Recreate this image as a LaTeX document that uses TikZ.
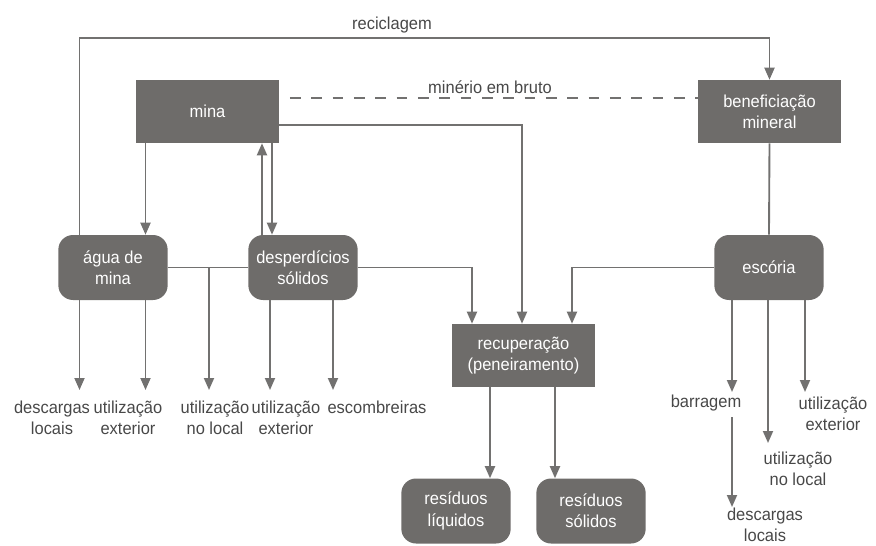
\documentclass[tikz,border=0pt]{standalone}
\usepackage{fontspec}
\setmainfont{Liberation Sans}[FakeStretch=0.95]
\usetikzlibrary{arrows.meta}
\definecolor{boxgray}{RGB}{110,108,106}
\definecolor{linegray}{RGB}{114,113,112}
\definecolor{labelgray}{RGB}{72,72,72}

\begin{document}
\begin{tikzpicture}[x=0.75pt,y=0.75pt,yscale=-1,xscale=1,
  font=\fontsize{13}{16}\selectfont,
  box/.style={rectangle,fill=boxgray,text=white,align=center,inner sep=0pt,minimum width=107.25pt,minimum height=47.25pt},
  softbox/.style={rectangle,rounded corners=11pt,fill=boxgray,text=white,align=center,inner sep=0pt,minimum width=82pt,minimum height=48.75pt},
  lbl/.style={text=labelgray,align=center,inner sep=0pt},
  flow/.style={draw=linegray,line width=1.4pt},
  arr/.style={flow,-{Triangle[width=7.5pt,length=9pt]}}]
\useasboundingbox (0,0) rectangle (876,546);

%Shape: Rectangle [id:mina]
\node[box] (mina) at (207.5,111.5) {mina};
%Shape: Rectangle [id:benef]
\node[box] (benef) at (769.5,111.5) {beneficiação\\mineral};
%Shape: Rectangle [id:recup]
\node[box] (recup) at (523.5,355.5) {recuperação\\(peneiramento)};
%Shape: Rounded Rect [id:agua]
\node[softbox] (agua) at (113,267.5) {água de\\mina};
%Shape: Rounded Rect [id:desp]
\node[softbox] (desp) at (303,267.5) {desperdícios\\sólidos};
%Shape: Rounded Rect [id:escoria]
\node[softbox] (escoria) at (769,267.5) {escória};
%Shape: Rounded Rect [id:resliq]
\node[softbox] (resliq) at (456,511) {resíduos\\líquidos};
%Shape: Rounded Rect [id:ressol]
\node[softbox] (ressol) at (591,511) {resíduos\\sólidos};

%Coordinates: line corners and free ends
\coordinate (rc) at (79.5,38);
\coordinate (dl) at (290,98);
\coordinate (mr) at (522,125);
\coordinate (up) at (262,190);
\coordinate (dn) at (272,190);
\coordinate (rl) at (472,300);
\coordinate (rr) at (572,300);
\coordinate (q1) at (490,430);
\coordinate (q2) at (555,430);
\coordinate (a1) at (79.5,390);
\coordinate (a2) at (145.5,390);
\coordinate (a3) at (209,390);
\coordinate (a4) at (270,390);
\coordinate (a5) at (333,390);
\coordinate (e1) at (732,392);
\coordinate (e2) at (768,443);
\coordinate (e3) at (805,392);
\coordinate (e4) at (732,417);
\coordinate (e5) at (732,507);

%Straight Lines [id:reciclagem]
\draw[arr] (agua.north -| rc) |- (benef.north |- rc) -- (benef.north);
%Straight Lines [id:bruto]
\draw[flow,dash pattern={on 8pt off 8pt},dash phase=-8pt] (mina.east |- dl) -- (benef.west |- dl);
%Straight Lines [id:mina-recup]
\draw[arr] (mina.east |- mr) -- (mr) -- (recup.north -| mr);
%Straight Lines [id:mina-agua]
\draw[arr] (mina.south -| a2) -- (agua.north -| a2);
%Straight Lines [id:desp-mina]
\draw[arr] (desp.north -| up) -- (mina.south -| up);
\draw[arr] (mina.south -| dn) -- (desp.north -| dn);
%Straight Lines [id:agua-desp]
\draw[flow] (agua.east) -- (desp.west);
\draw[arr] (a3 |- agua.east) -- (a3);
%Straight Lines [id:desp-recup]
\draw[arr] (desp.east) -| (recup.north -| rl);
%Straight Lines [id:escoria-recup]
\draw[arr] (escoria.west) -| (recup.north -| rr);
%Straight Lines [id:benef-escoria]
\draw[flow] (benef.south) -- (escoria.north);
%Straight Lines [id:agua-out]
\draw[arr] (agua.south -| a1) -- (a1);
\draw[arr] (agua.south -| a2) -- (a2);
%Straight Lines [id:desp-out]
\draw[arr] (desp.south -| a4) -- (a4);
\draw[arr] (desp.south -| a5) -- (a5);
%Straight Lines [id:escoria-out]
\draw[arr] (escoria.south -| e1) -- (e1);
\draw[arr] (escoria.south -| e2) -- (e2);
\draw[arr] (escoria.south -| e3) -- (e3);
\draw[arr] (e4) -- (e5);
%Straight Lines [id:recup-out]
\draw[arr] (recup.south -| q1) -- (resliq.north -| q1);
\draw[arr] (recup.south -| q2) -- (ressol.north -| q2);

% Text Node
\node[lbl] (reci) at (392,25) {reciclagem};
% Text Node
\node[lbl] (bruto) at (490,87) {minério em bruto};
% Text Node
\node[lbl] (l1) at (52,417.5) {descargas\\locais};
% Text Node
\node[lbl] (l2) at (128,417.5) {utilização\\exterior};
% Text Node
\node[lbl] (l3) at (215,417.5) {utilização\\no local};
% Text Node
\node[lbl] (l4) at (286,417.5) {utilização\\exterior};
% Text Node
\node[lbl] (l5) at (377,407) {escombreiras};
% Text Node
\node[lbl] (l6) at (706,403) {barragem};
% Text Node
\node[lbl] (l7) at (765,525) {descargas\\locais};
% Text Node
\node[lbl] (l8) at (798,469) {utilização\\no local};
% Text Node
\node[lbl] (l9) at (833,413.5) {utilização\\exterior};

\end{tikzpicture}
\end{document}
